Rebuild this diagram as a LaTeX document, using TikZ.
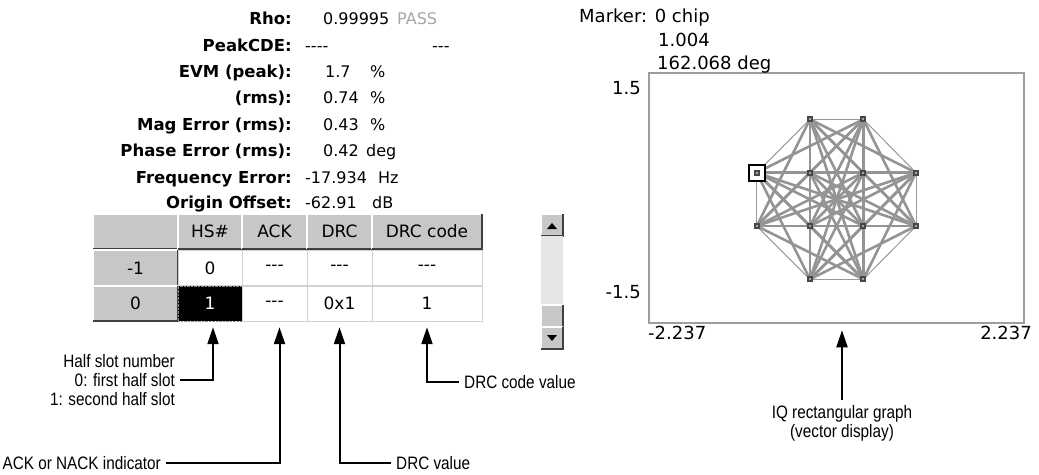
\documentclass[tikz,border=0pt]{standalone}
\usepackage{fontspec}
\setmainfont{Liberation Sans}
\newfontfamily\scrfont{DejaVu Sans}
\newfontfamily\notefont[FakeStretch=0.85]{Liberation Sans}
\usetikzlibrary{arrows.meta}

\begin{document}
\begin{tikzpicture}[x=1pt,y=-1pt,>={Triangle[length=17pt,width=11pt]}]
    \tikzstyle{every node}=[inner sep=0pt]
    \tikzstyle{lab}=[anchor=base east,font=\scrfont\bfseries\fontsize{16.5}{18}\selectfont]
    \tikzstyle{val}=[anchor=base west,font=\scrfont\fontsize{16}{18}\selectfont]
    \tikzstyle{cell}=[minimum height=35pt,font=\scrfont\fontsize{17}{19}\selectfont]
    \tikzstyle{datacell}=[cell,draw=black!18,fill=white]
    \tikzstyle{plotnum}=[font=\scrfont\fontsize{18}{20}\selectfont]
    \tikzstyle{note}=[inner sep=5pt,font=\notefont\fontsize{18}{19}\selectfont]
    \tikzstyle{callarrow}=[->,line width=2pt,shorten >=6pt]
    \newcommand\winbevel[4]{
        \fill[black!22] (#1,#2) rectangle (#3,#4);
        \draw[white,line width=1.5pt] (#1,#4) -- (#1,#2) -- (#3,#2);
        \draw[black!75,line width=1.5pt] (#1,#4) -- (#3,#4) -- (#3,#2);
    }
    \useasboundingbox (0,0) rectangle (1039,474);

    % measurement readout
    \node[lab] (rhoL) at (292,24) {Rho:};
    \node[val] (rhoV) at (323,24) {0.99995};
    \node[val,text=black!35] (rhoP) at (397,24) {PASS};
    \node[lab] (cdeL) at (292,51) {PeakCDE:};
    \node[val] (cdeV) at (305,51) {-{}-{}-{}-};
    \node[val] (cdeW) at (432,51) {-{}-{}-};
    \node[lab] (evmL) at (292,77) {EVM (peak):};
    \node[val] (evmV) at (325,77) {\makebox[45pt][l]{1.7}\%};
    \node[lab] (rmsL) at (292,103) {(rms):};
    \node[val] (rmsV) at (323,103) {\makebox[47pt][l]{0.74}\%};
    \node[lab] (magL) at (292,130) {Mag Error (rms):};
    \node[val] (magV) at (323,130) {\makebox[47pt][l]{0.43}\%};
    \node[lab] (phL) at (292,156) {Phase Error (rms):};
    \node[val] (phV) at (323,156) {\makebox[43pt][l]{0.42}deg};
    \node[lab] (frqL) at (292,183) {Frequency Error:};
    \node[val] (frqV) at (305,183) {\makebox[73pt][l]{-17.934}Hz};
    \node[lab] (orgL) at (292,208) {Origin Offset:};
    \node[val] (orgV) at (305,208) {\makebox[67pt][l]{-62.91}dB};

    % table
    \winbevel{93}{214}{178}{249}
    \winbevel{178}{214}{242}{249}
    \winbevel{242}{214}{307}{249}
    \winbevel{307}{214}{372}{249}
    \winbevel{372}{214}{482}{249}
    \node[cell] (hHS) at (210,231.5) {HS\#};
    \node[cell] (hACK) at (274.5,231.5) {ACK};
    \node[cell] (hDRC) at (339.5,231.5) {DRC};
    \node[cell] (hCode) at (427,231.5) {DRC code};
    \winbevel{93}{250}{178}{286}
    \winbevel{93}{286}{178}{321}
    \node[cell] (rowA) at (135.5,268) {-1};
    \node[cell] (rowB) at (135.5,303.5) {0};
    \node[datacell,minimum width=64pt] (hsA) at (210,268) {0};
    \node[datacell,minimum width=65pt] (ackA) at (274.5,268) {-{}-{}-};
    \node[datacell,minimum width=65pt] (drcA) at (339.5,268) {-{}-{}-};
    \node[datacell,minimum width=110pt] (codeA) at (427,268) {-{}-{}-};
    \node[cell,fill=black,text=white,draw=black!45,densely dotted,minimum width=64pt] (hsB) at (210,303.5) {1};
    \node[datacell,minimum width=65pt] (ackB) at (274.5,303.5) {-{}-{}-};
    \node[datacell,minimum width=65pt] (drcB) at (339.5,303.5) {0x1};
    \node[datacell,minimum width=110pt] (codeB) at (427,303.5) {1};

    % scroll bar
    \winbevel{541}{214}{563}{236}
    \fill (547,229) -- (557,229) -- (552,223) -- cycle;
    \fill[black!10] (541,236) rectangle (563,305);
    \winbevel{541}{305}{563}{327}
    \winbevel{541}{327}{563}{349}
    \fill (547,335) -- (557,335) -- (552,341) -- cycle;

    % IQ graph
    \node[draw=black!38,line width=2.5pt,minimum width=375pt,minimum height=250pt] (iqbox) at (836.5,198) {};
    \node[plotnum,anchor=base west] (mkA) at (579,22.5) {Marker: 0 chip};
    \node[plotnum,anchor=base west] (mkB) at (658,46.5) {1.004};
    \node[plotnum,anchor=base west] (mkC) at (657,69.5) {162.068 deg};
    \node[plotnum,anchor=base east] (ymax) at (641,94.5) {1.5};
    \node[plotnum,anchor=base east] (ymin) at (641,298.5) {-1.5};
    \node[plotnum,anchor=base west] (xmin) at (648,339.5) {-2.237};
    \node[plotnum,anchor=base east] (xmax) at (1032,339.5) {2.237};
    \foreach \n/\px/\py in {1/810/119.3, 2/863.3/119.3, 3/916/172.7, 4/916/226,
        5/863.3/279.3, 6/810/279.3, 7/756.7/226, 8/756.7/172.7,
        9/810/172.7, 10/863.3/172.7, 11/863.3/226, 12/810/226}
        \coordinate (p\n) at (\px,\py);
    \foreach \i in {1,...,11}{
        \pgfmathtruncatemacro\k{\i+1}
        \foreach \j in {\k,...,12}{
            \pgfmathtruncatemacro\rim{and(\j<9,or(\j-\i==1,\j-\i==7))}
            \ifnum\rim=1 \draw[black!40,line width=1pt] (p\i) -- (p\j);
            \else \draw[black!42,line width=2.6pt] (p\i) -- (p\j); \fi
        }
    }
    \filldraw[fill=white,draw=black,line width=1.8pt] (p8) ++(-8,-8) rectangle ++(16,16);
    \foreach \n in {1,...,12}{
        \fill[black!72] (p\n) ++(-3,-3) rectangle ++(6,6);
        \fill[black!35] (p\n) ++(-1,-1) rectangle ++(2,2);
    }

    % callouts
    \node[note,anchor=east,align=right] (slotnote) at (180,380) {Half slot number\\0: first half slot\\1: second half slot};
    \node[note,anchor=east] (acknote) at (166,463) {ACK or NACK indicator};
    \node[note,anchor=west] (drcnote) at (391,463) {DRC value};
    \node[note,anchor=west] (codenote) at (459,382) {DRC code value};
    \node[note,anchor=north,align=center] (iqnote) at (842,400) {IQ rectangular graph\\(vector display)};
    \draw[callarrow] (slotnote.east) -| ([xshift=3pt]hsB.south);
    \draw[callarrow] (acknote.east) -| ([xshift=5pt]ackB.south);
    \draw[callarrow] (drcnote.west) -| (drcB.south);
    \draw[callarrow] (codenote.west) -| (codeB.south);
    \draw[callarrow] (iqnote.north) -- (iqnote.north |- iqbox.south);
\end{tikzpicture}
\end{document}
